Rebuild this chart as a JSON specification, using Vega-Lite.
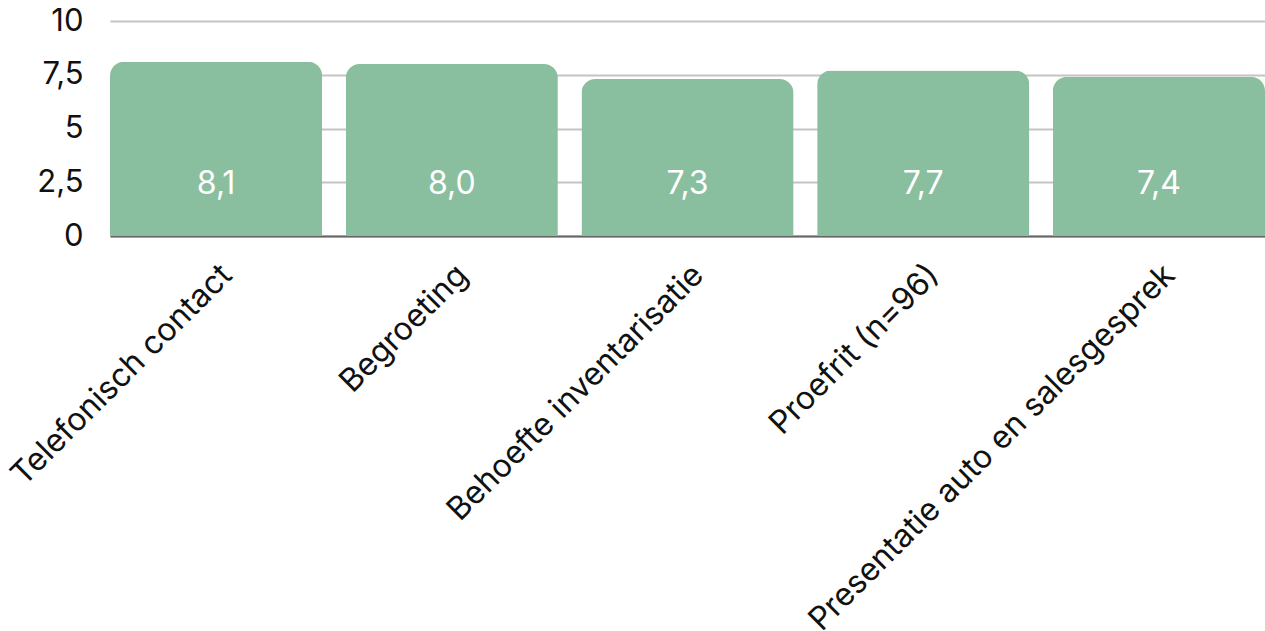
{
  "$schema": "https://vega.github.io/schema/vega-lite/v6.json",
  "width": 1155,
  "height": 215,
  "autosize": {"type": "none"},
  "padding": {"left": 110, "top": 21, "right": 0, "bottom": 395},
  "config": {
    "font": "Inter",
    "view": {"stroke": null},
    "locale": {
      "number": {"decimal": ",", "thousands": ".", "grouping": [3], "currency": ["€", ""]}
    }
  },
  "data": {
    "values": [
      {"stap": "Telefonisch contact", "score": 8.1},
      {"stap": "Begroeting", "score": 8.0},
      {"stap": "Behoefte inventarisatie", "score": 7.3},
      {"stap": "Proefrit (n=96)", "score": 7.7},
      {"stap": "Presentatie auto en salesgesprek", "score": 7.4}
    ]
  },
  "encoding": {
    "x": {
      "field": "stap",
      "type": "nominal",
      "sort": null,
      "scale": {"paddingInner": 0.1, "paddingOuter": 0},
      "axis": {
        "title": null,
        "labelAngle": -45,
        "labelFontSize": 32,
        "labelColor": "#111111",
        "labelPadding": 23,
        "ticks": false,
        "domainColor": "#666666",
        "domainWidth": 2,
        "labelLimit": 0
      }
    }
  },
  "layer": [
    {
      "mark": {
        "type": "bar",
        "color": "#89bf9f",
        "cornerRadiusTopLeft": 14,
        "cornerRadiusTopRight": 14
      },
      "encoding": {
        "y": {
          "field": "score",
          "type": "quantitative",
          "scale": {"domain": [0, 10]},
          "axis": {
            "title": null,
            "values": [0, 2.5, 5, 7.5, 10],
            "labelExpr": "replace(toString(datum.value), '.', ',')",
            "domain": false,
            "ticks": false,
            "labelFontSize": 31,
            "labelColor": "#111111",
            "labelPadding": 27,
            "gridColor": "#c4c4c4",
            "gridWidth": 2
          }
        }
      }
    },
    {
      "mark": {
        "type": "text",
        "color": "#ffffff",
        "fontSize": 32,
        "baseline": "middle"
      },
      "encoding": {
        "y": {"datum": 2.4, "type": "quantitative"},
        "text": {"field": "score", "type": "quantitative", "format": ".1f"}
      }
    }
  ]
}
